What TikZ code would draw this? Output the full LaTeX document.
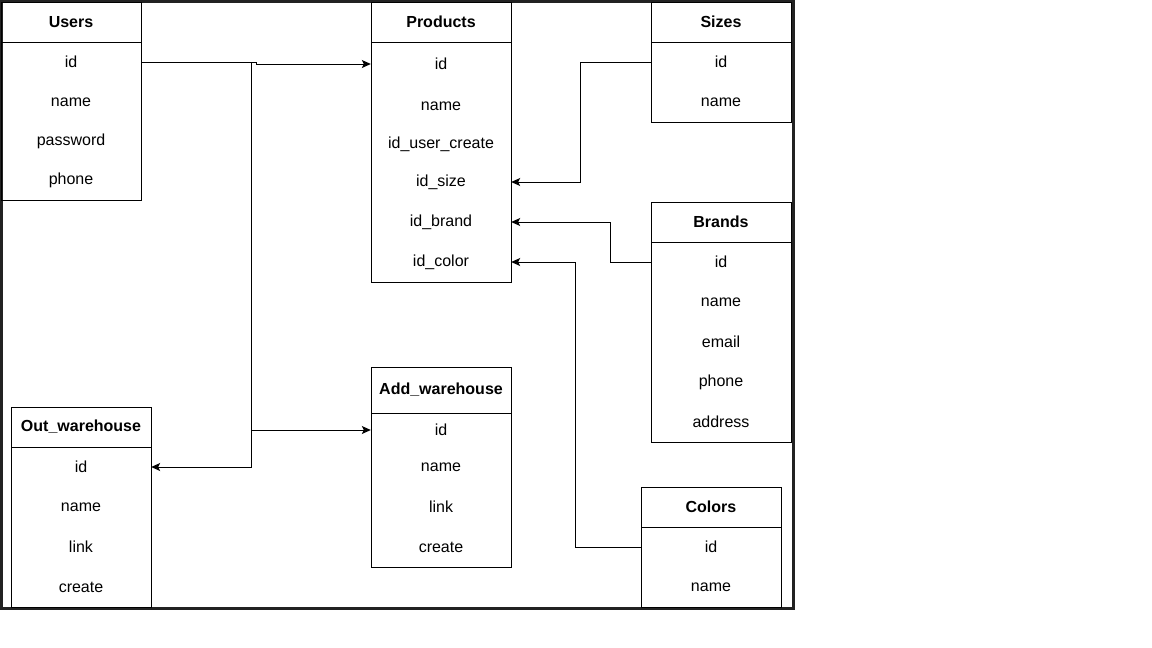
\documentclass[tikz,border=0pt]{standalone}
\usepackage{fontspec}
\setmainfont{Liberation Sans}
\usepackage{tikz}
\usetikzlibrary{arrows.meta,positioning}
\definecolor{frame}{HTML}{222222}

\begin{document}
\begin{tikzpicture}[
  x=1pt, y=-1pt,
  font=\fontsize{16}{19}\selectfont,
  hd/.style={draw, line width=1pt, outer sep=0pt, minimum width=140pt, minimum height=40pt, inner sep=0pt, font=\fontsize{16}{19}\selectfont\bfseries},
  bd/.style={draw, line width=1pt, outer sep=0pt, minimum width=140pt, inner sep=0pt, below=0pt of #1},
  fld/.style={minimum width=140pt, inner sep=0pt},
  arr/.style={-{Stealth[length=9pt, width=8pt, inset=2pt]}, line width=1pt}
]
\useasboundingbox (0,0) rectangle (1152,648);
\draw[frame, line width=3pt] (1,1) rectangle (793,608);

% Users
\node[hd] (users) at (71,22) {Users};
\node[bd=users, minimum height=158pt] (users-b) {};
\node[fld] (users-id) at (71,62) {id};
\node[fld] (users-name) at (71,102) {name};
\node[fld] (users-pass) at (71,141) {password};
\node[fld] (users-phone) at (71,180) {phone};

% Products
\node[hd] (prod) at (441,22) {Products};
\node[bd=prod, minimum height=240pt] (prod-b) {};
\node[fld] (prod-id) at (441,64) {id};
\node[fld] (prod-name) at (441,106) {name};
\node[fld] (prod-user) at (441,144) {id\_user\_create};
\node[fld] (prod-size) at (441,182) {id\_size};
\node[fld] (prod-brand) at (441,222) {id\_brand};
\node[fld] (prod-color) at (441,262) {id\_color};

% Sizes
\node[hd] (sizes) at (721,22) {Sizes};
\node[bd=sizes, minimum height=80pt] (sizes-b) {};
\node[fld] (sizes-id) at (721,62) {id};
\node[fld] (sizes-name) at (721,102) {name};

% Brands
\node[hd] (brands) at (721,222) {Brands};
\node[bd=brands, minimum height=200pt] (brands-b) {};
\node[fld] (brands-id) at (721,262) {id};
\node[fld] (brands-name) at (721,302) {name};
\node[fld] (brands-email) at (721,342) {email};
\node[fld] (brands-phone) at (721,382) {phone};
\node[fld] (brands-addr) at (721,422) {address};

% Colors
\node[hd] (colors) at (711,507) {Colors};
\node[bd=colors, minimum height=80pt] (colors-b) {};
\node[fld] (colors-id) at (711,547) {id};
\node[fld] (colors-name) at (711,587) {name};

% Add_warehouse
\node[hd, minimum height=46pt] (add) at (441,390) {Add\_warehouse};
\node[bd=add, minimum height=154pt] (add-b) {};
\node[fld] (add-id) at (441,430) {id};
\node[fld] (add-name) at (441,467) {name};
\node[fld] (add-link) at (441,507) {link};
\node[fld] (add-create) at (441,547) {create};

% Out_warehouse
\node[hd] (out) at (81,427) {Out\_warehouse};
\node[bd=out, minimum height=160pt] (out-b) {};
\node[fld] (out-id) at (81,467) {id};
\node[fld] (out-name) at (81,507) {name};
\node[fld] (out-link) at (81,547) {link};
\node[fld] (out-create) at (81,587) {create};

% links
\draw[arr] (users-id.east) -- ++(115,0) |- (prod-id.west);
\draw[arr] (users-id.east) -- ++(110,0) |- (out-id.east);
\draw[arr] (users-id.east) -- ++(110,0) |- (add-id.west);
\draw[arr] (sizes-id.west) -- ++(-70,0) |- (prod-size.east);
\draw[arr] (brands-id.west) -- ++(-40,0) |- (prod-brand.east);
\draw[arr] (colors-id.west) -- ++(-65,0) |- (prod-color.east);
\end{tikzpicture}
\end{document}
